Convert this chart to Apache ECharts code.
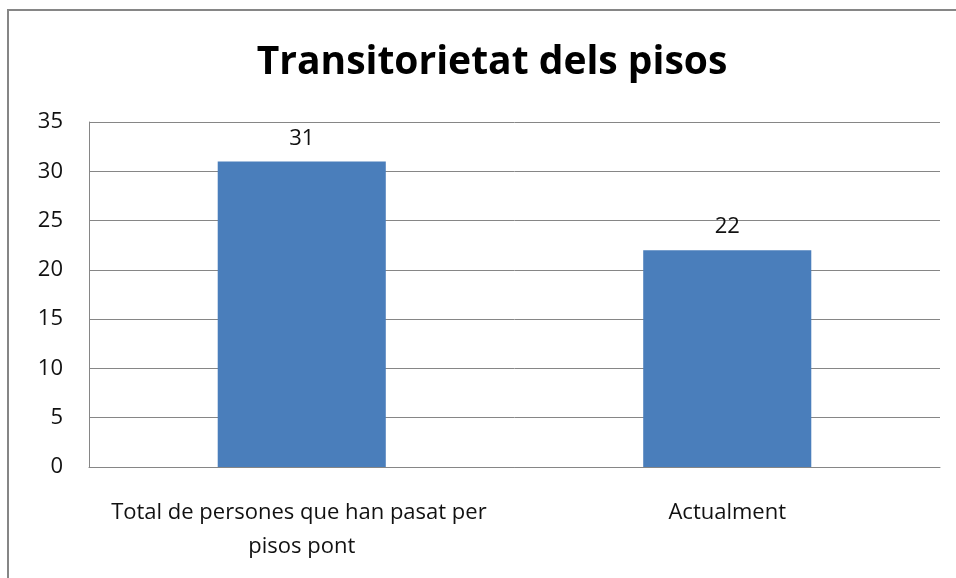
<!DOCTYPE html>
<html>
<head>
<meta charset="utf-8">
<script src="https://cdn.jsdelivr.net/npm/echarts@6/dist/echarts.min.js"></script>
<style>
html,body{margin:0;padding:0;background:#fff;}
#chart{width:956px;height:578px;}
</style>
</head>
<body>
<div id="chart"></div>
<script>
var titleText = 'Transitorietat dels pisos';
var categories = ['Total de persones que han pasat per pisos pont', 'Actualment'];
var values = [31, 22];
var yTicks = [0, 5, 10, 15, 20, 25, 30, 35];

var chart = echarts.init(document.getElementById('chart'));
var font = '"Open Sans", sans-serif';
chart.setOption({
  animation: false,
  backgroundColor: '#fff',
  title: {
    text: titleText,
    left: 487,
    textAlign: 'center',
    top: 38,
    textStyle: { fontFamily: font, fontSize: 39, fontWeight: 'bold', color: '#000' }
  },
  graphic: [{
    type: 'rect',
    shape: { x: 8, y: 10, width: 970, height: 600 },
    style: { fill: 'none', stroke: '#868686', lineWidth: 2 },
    silent: true
  }],
  grid: { left: 89, right: 16, top: 122, bottom: 111, containLabel: false },
  xAxis: {
    type: 'category',
    data: categories,
    axisLine: { show: true, lineStyle: { color: '#868686', width: 1 } },
    axisTick: { show: false },
    axisLabel: {
      fontFamily: font, fontSize: 22, color: '#111', margin: 29,
      width: 400, overflow: 'break', lineHeight: 34, interval: 0
    }
  },
  yAxis: {
    type: 'value',
    min: yTicks[0],
    max: yTicks[yTicks.length - 1],
    interval: yTicks[1] - yTicks[0],
    axisLine: { show: true, lineStyle: { color: '#868686', width: 1 } },
    axisTick: { show: false },
    splitLine: { show: true, lineStyle: { color: '#868686', width: 1 } },
    axisLabel: { fontFamily: font, fontSize: 22, color: '#111', margin: 26 }
  },
  series: [{
    type: 'bar',
    data: values,
    barWidth: '39.5%',
    itemStyle: { color: '#4a7ebb' },
    label: {
      show: true, position: 'top', distance: 12,
      fontFamily: font, fontSize: 22, color: '#111'
    }
  }]
});
</script>
</body>
</html>
